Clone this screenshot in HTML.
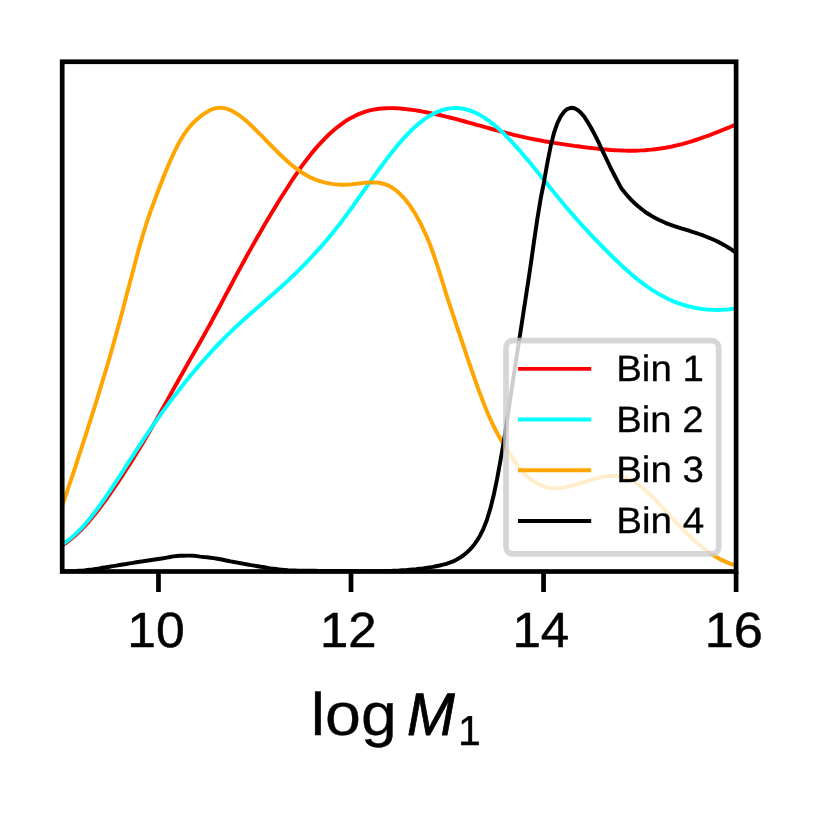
<!DOCTYPE html>
<html lang="en">
<head>
<meta charset="utf-8">
<title>log M1 distributions by bin</title>
<style>
html,body{margin:0;padding:0;background:#ffffff;}
body{width:830px;height:830px;overflow:hidden;}
svg{display:block;}
text{font-family:"Liberation Sans",sans-serif;fill:#000000;font-kerning:none;text-rendering:geometricPrecision;}
</style>
</head>
<body>
<svg width="830" height="830" viewBox="0 0 830 830" role="img" aria-label="Normalised distributions of log M1 for Bin 1 to Bin 4">
<rect x="0" y="0" width="830" height="830" fill="#ffffff"/>
<defs><clipPath id="axclip"><rect x="62.2" y="61.75" width="673.90" height="509.75"/></clipPath></defs>
<g id="curves" clip-path="url(#axclip)" fill="none" stroke-width="3.95" stroke-linejoin="round" stroke-linecap="square">
<path d="M62.2 545.3 L65.6 543.1 L68.9 540.7 L72.3 538.0 L75.7 535.0 L79.0 531.9 L82.4 528.5 L85.8 524.9 L89.2 521.1 L92.5 517.1 L95.9 512.9 L99.3 508.6 L102.6 504.1 L106.0 499.5 L109.4 494.7 L112.7 489.9 L116.1 484.9 L119.5 479.9 L122.9 474.7 L126.2 469.5 L129.6 464.3 L133.0 458.9 L136.3 453.5 L139.7 448.0 L143.1 442.4 L146.4 436.8 L149.8 431.0 L153.2 425.2 L156.5 419.4 L159.9 413.5 L163.3 407.5 L166.7 401.4 L170.0 395.4 L173.4 389.3 L176.8 383.3 L180.1 377.3 L183.5 371.3 L186.9 365.3 L190.2 359.4 L193.6 353.5 L197.0 347.6 L200.3 341.7 L203.7 335.7 L207.1 329.6 L210.5 323.5 L213.8 317.3 L217.2 311.0 L220.6 304.7 L223.9 298.4 L227.3 292.0 L230.7 285.7 L234.0 279.4 L237.4 273.1 L240.8 266.9 L244.2 260.7 L247.5 254.6 L250.9 248.6 L254.3 242.6 L257.6 236.7 L261.0 230.9 L264.4 225.1 L267.7 219.4 L271.1 213.8 L274.5 208.2 L277.8 202.7 L281.2 197.3 L284.6 192.0 L288.0 186.7 L291.3 181.5 L294.7 176.4 L298.1 171.5 L301.4 166.7 L304.8 162.1 L308.2 157.7 L311.5 153.4 L314.9 149.4 L318.3 145.5 L321.7 141.8 L325.0 138.3 L328.4 135.0 L331.8 131.9 L335.1 129.0 L338.5 126.3 L341.9 123.8 L345.2 121.4 L348.6 119.3 L352.0 117.4 L355.3 115.7 L358.7 114.1 L362.1 112.8 L365.5 111.7 L368.8 110.7 L372.2 109.9 L375.6 109.3 L378.9 108.8 L382.3 108.5 L385.7 108.2 L389.0 108.1 L392.4 108.1 L395.8 108.2 L399.1 108.4 L402.5 108.7 L405.9 109.1 L409.3 109.5 L412.6 109.9 L416.0 110.4 L419.4 111.0 L422.7 111.6 L426.1 112.2 L429.5 112.9 L432.8 113.6 L436.2 114.3 L439.6 115.0 L443.0 115.8 L446.3 116.7 L449.7 117.5 L453.1 118.4 L456.4 119.2 L459.8 120.1 L463.2 121.0 L466.5 122.0 L469.9 122.9 L473.3 123.8 L476.6 124.8 L480.0 125.7 L483.4 126.7 L486.8 127.6 L490.1 128.5 L493.5 129.5 L496.9 130.4 L500.2 131.3 L503.6 132.2 L507.0 133.1 L510.3 133.9 L513.7 134.8 L517.1 135.6 L520.5 136.4 L523.8 137.1 L527.2 137.9 L530.6 138.6 L533.9 139.3 L537.3 139.9 L540.7 140.5 L544.0 141.2 L547.4 141.7 L550.8 142.3 L554.1 142.9 L557.5 143.4 L560.9 143.9 L564.3 144.4 L567.6 144.9 L571.0 145.4 L574.4 145.9 L577.7 146.3 L581.1 146.8 L584.5 147.2 L587.8 147.6 L591.2 148.0 L594.6 148.4 L598.0 148.8 L601.3 149.1 L604.7 149.4 L608.1 149.7 L611.4 150.0 L614.8 150.2 L618.2 150.4 L621.5 150.5 L624.9 150.6 L628.3 150.7 L631.6 150.7 L635.0 150.7 L638.4 150.6 L641.8 150.4 L645.1 150.2 L648.5 149.9 L651.9 149.6 L655.2 149.2 L658.6 148.8 L662.0 148.3 L665.3 147.8 L668.7 147.1 L672.1 146.5 L675.4 145.7 L678.8 144.9 L682.2 144.1 L685.6 143.1 L688.9 142.2 L692.3 141.1 L695.7 140.0 L699.0 138.9 L702.4 137.7 L705.8 136.5 L709.1 135.3 L712.5 134.0 L715.9 132.7 L719.3 131.4 L722.6 130.0 L726.0 128.6 L729.4 127.3 L732.7 125.8 L736.1 124.4" stroke="#ff0000"/>
<path d="M62.2 544.2 L65.6 542.1 L68.9 539.7 L72.3 537.0 L75.7 533.9 L79.0 530.6 L82.4 527.1 L85.8 523.3 L89.2 519.3 L92.5 515.1 L95.9 510.7 L99.3 506.2 L102.6 501.5 L106.0 496.6 L109.4 491.7 L112.7 486.7 L116.1 481.6 L119.5 476.4 L122.9 471.2 L126.2 465.9 L129.6 460.7 L133.0 455.5 L136.3 450.3 L139.7 445.1 L143.1 440.0 L146.4 435.0 L149.8 430.0 L153.2 425.1 L156.5 420.3 L159.9 415.6 L163.3 410.9 L166.7 406.3 L170.0 401.7 L173.4 397.3 L176.8 392.9 L180.1 388.5 L183.5 384.3 L186.9 380.1 L190.2 376.0 L193.6 371.9 L197.0 367.9 L200.3 364.0 L203.7 360.2 L207.1 356.4 L210.5 352.7 L213.8 349.0 L217.2 345.5 L220.6 342.0 L223.9 338.5 L227.3 335.2 L230.7 331.9 L234.0 328.7 L237.4 325.5 L240.8 322.4 L244.2 319.3 L247.5 316.3 L250.9 313.3 L254.3 310.4 L257.6 307.4 L261.0 304.5 L264.4 301.6 L267.7 298.7 L271.1 295.7 L274.5 292.8 L277.8 289.8 L281.2 286.8 L284.6 283.7 L288.0 280.6 L291.3 277.4 L294.7 274.2 L298.1 270.9 L301.4 267.5 L304.8 264.1 L308.2 260.6 L311.5 257.0 L314.9 253.4 L318.3 249.7 L321.7 245.9 L325.0 242.0 L328.4 238.1 L331.8 234.0 L335.1 229.8 L338.5 225.6 L341.9 221.2 L345.2 216.7 L348.6 212.1 L352.0 207.5 L355.3 202.7 L358.7 198.0 L362.1 193.2 L365.5 188.5 L368.8 183.7 L372.2 178.9 L375.6 174.2 L378.9 169.5 L382.3 165.0 L385.7 160.4 L389.0 156.0 L392.4 151.7 L395.8 147.5 L399.1 143.5 L402.5 139.6 L405.9 135.9 L409.3 132.4 L412.6 129.1 L416.0 126.0 L419.4 123.1 L422.7 120.5 L426.1 118.1 L429.5 116.0 L432.8 114.1 L436.2 112.4 L439.6 111.0 L443.0 109.9 L446.3 109.0 L449.7 108.4 L453.1 108.1 L456.4 108.0 L459.8 108.2 L463.2 108.7 L466.5 109.5 L469.9 110.5 L473.3 111.8 L476.6 113.3 L480.0 115.1 L483.4 117.1 L486.8 119.3 L490.1 121.7 L493.5 124.4 L496.9 127.2 L500.2 130.2 L503.6 133.4 L507.0 136.8 L510.3 140.3 L513.7 143.9 L517.1 147.6 L520.5 151.4 L523.8 155.4 L527.2 159.4 L530.6 163.4 L533.9 167.5 L537.3 171.7 L540.7 175.9 L544.0 180.1 L547.4 184.3 L550.8 188.5 L554.1 192.6 L557.5 196.8 L560.9 200.8 L564.3 204.9 L567.6 208.8 L571.0 212.7 L574.4 216.6 L577.7 220.4 L581.1 224.2 L584.5 227.9 L587.8 231.5 L591.2 235.1 L594.6 238.6 L598.0 242.2 L601.3 245.6 L604.7 249.0 L608.1 252.4 L611.4 255.7 L614.8 259.0 L618.2 262.2 L621.5 265.4 L624.9 268.4 L628.3 271.5 L631.6 274.4 L635.0 277.2 L638.4 280.0 L641.8 282.6 L645.1 285.1 L648.5 287.5 L651.9 289.8 L655.2 291.9 L658.6 293.9 L662.0 295.8 L665.3 297.5 L668.7 299.2 L672.1 300.7 L675.4 302.1 L678.8 303.3 L682.2 304.5 L685.6 305.5 L688.9 306.4 L692.3 307.2 L695.7 307.9 L699.0 308.5 L702.4 309.0 L705.8 309.4 L709.1 309.7 L712.5 309.8 L715.9 309.9 L719.3 309.9 L722.6 309.8 L726.0 309.6 L729.4 309.3 L732.7 308.9 L736.1 308.4" stroke="#00ffff"/>
<path d="M62.2 505.8 L65.6 495.9 L68.9 486.0 L72.3 476.0 L75.7 465.8 L79.0 455.6 L82.4 445.2 L85.8 434.8 L89.2 424.2 L92.5 413.6 L95.9 402.8 L99.3 391.9 L102.6 380.9 L106.0 369.7 L109.4 358.2 L112.7 346.5 L116.1 334.4 L119.5 322.0 L122.9 309.4 L126.2 296.5 L129.6 283.7 L133.0 270.9 L136.3 258.2 L139.7 245.9 L143.1 234.3 L146.4 223.5 L149.8 213.5 L153.2 204.1 L156.5 195.1 L159.9 186.2 L163.3 177.6 L166.7 169.3 L170.0 161.4 L173.4 153.9 L176.8 147.0 L180.1 140.7 L183.5 135.2 L186.9 130.3 L190.2 126.1 L193.6 122.4 L197.0 119.2 L200.3 116.4 L203.7 114.0 L207.1 111.9 L210.5 110.0 L213.8 108.7 L217.2 107.9 L220.6 107.7 L223.9 108.1 L227.3 108.9 L230.7 110.3 L234.0 112.0 L237.4 114.1 L240.8 116.5 L244.2 119.2 L247.5 122.1 L250.9 125.2 L254.3 128.5 L257.6 131.8 L261.0 135.2 L264.4 138.6 L267.7 142.1 L271.1 145.5 L274.5 148.9 L277.8 152.3 L281.2 155.5 L284.6 158.7 L288.0 161.8 L291.3 164.7 L294.7 167.4 L298.1 169.9 L301.4 172.2 L304.8 174.3 L308.2 176.2 L311.5 177.9 L314.9 179.3 L318.3 180.6 L321.7 181.7 L325.0 182.6 L328.4 183.3 L331.8 183.9 L335.1 184.3 L338.5 184.6 L341.9 184.7 L345.2 184.7 L348.6 184.6 L352.0 184.3 L355.3 183.9 L358.7 183.5 L362.1 183.1 L365.5 182.7 L368.8 182.5 L372.2 182.4 L375.6 182.4 L378.9 182.8 L382.3 183.5 L385.7 184.5 L389.0 185.9 L392.4 187.8 L395.8 190.2 L399.1 193.1 L402.5 196.4 L405.9 200.3 L409.3 204.7 L412.6 209.6 L416.0 215.1 L419.4 221.2 L422.7 227.9 L426.1 235.3 L429.5 243.3 L432.8 252.3 L436.2 262.1 L439.6 272.6 L443.0 283.5 L446.3 294.3 L449.7 304.8 L453.1 315.0 L456.4 325.1 L459.8 335.0 L463.2 345.0 L466.5 355.1 L469.9 365.0 L473.3 374.8 L476.6 384.3 L480.0 393.6 L483.4 402.5 L486.8 410.9 L490.1 418.7 L493.5 426.0 L496.9 432.6 L500.2 438.6 L503.6 444.1 L507.0 449.4 L510.3 454.6 L513.7 459.8 L517.1 464.7 L520.5 469.1 L523.8 473.0 L527.2 476.4 L530.6 479.3 L533.9 481.7 L537.3 483.7 L540.7 485.3 L544.0 486.5 L547.4 487.3 L550.8 487.9 L554.1 488.1 L557.5 488.1 L560.9 487.8 L564.3 487.4 L567.6 486.7 L571.0 486.0 L574.4 485.1 L577.7 484.1 L581.1 483.0 L584.5 482.0 L587.8 480.9 L591.2 479.8 L594.6 478.9 L598.0 478.0 L601.3 477.2 L604.7 476.6 L608.1 476.1 L611.4 475.9 L614.8 475.9 L618.2 476.1 L621.5 476.7 L624.9 477.6 L628.3 478.8 L631.6 480.4 L635.0 482.4 L638.4 484.7 L641.8 487.3 L645.1 490.2 L648.5 493.3 L651.9 496.5 L655.2 499.9 L658.6 503.5 L662.0 507.1 L665.3 510.7 L668.7 514.3 L672.1 518.0 L675.4 521.6 L678.8 525.1 L682.2 528.6 L685.6 532.0 L688.9 535.3 L692.3 538.5 L695.7 541.6 L699.0 544.5 L702.4 547.3 L705.8 549.9 L709.1 552.4 L712.5 554.7 L715.9 556.8 L719.3 558.7 L722.6 560.4 L726.0 561.9 L729.4 563.3 L732.7 564.4 L736.1 565.4" stroke="#ffa500"/>
<path d="M62.2 571.2 L65.6 571.2 L68.9 571.1 L72.3 571.1 L75.7 571.0 L79.0 570.8 L82.4 570.6 L85.8 570.3 L89.2 569.8 L92.5 569.4 L95.9 568.9 L99.3 568.4 L102.6 567.8 L106.0 567.3 L109.4 566.7 L112.7 566.1 L116.1 565.6 L119.5 565.0 L122.9 564.5 L126.2 564.0 L129.6 563.4 L133.0 562.9 L136.3 562.3 L139.7 561.8 L143.1 561.3 L146.4 560.7 L149.8 560.2 L153.2 559.7 L156.5 559.2 L159.9 558.7 L163.3 558.2 L166.7 557.6 L170.0 557.0 L173.4 556.4 L176.8 556.0 L180.1 555.8 L183.5 555.7 L186.9 555.6 L190.2 555.6 L193.6 555.8 L197.0 556.1 L200.3 556.6 L203.7 557.0 L207.1 557.3 L210.5 557.7 L213.8 558.1 L217.2 558.7 L220.6 559.3 L223.9 560.0 L227.3 560.7 L230.7 561.4 L234.0 562.0 L237.4 562.6 L240.8 563.3 L244.2 563.9 L247.5 564.5 L250.9 565.1 L254.3 565.6 L257.6 566.2 L261.0 566.8 L264.4 567.3 L267.7 567.9 L271.1 568.4 L274.5 568.8 L277.8 569.3 L281.2 569.6 L284.6 569.9 L288.0 570.2 L291.3 570.4 L294.7 570.5 L298.1 570.6 L301.4 570.7 L304.8 570.7 L308.2 570.8 L311.5 570.8 L314.9 570.8 L318.3 570.9 L321.7 570.9 L325.0 570.9 L328.4 570.9 L331.8 570.9 L335.1 570.9 L338.5 570.9 L341.9 570.9 L345.2 570.9 L348.6 570.9 L352.0 571.0 L355.3 571.0 L358.7 571.0 L362.1 571.0 L365.5 571.1 L368.8 571.1 L372.2 571.1 L375.6 571.1 L378.9 571.1 L382.3 571.1 L385.7 571.0 L389.0 570.9 L392.4 570.8 L395.8 570.6 L399.1 570.5 L402.5 570.3 L405.9 570.1 L409.3 569.8 L412.6 569.5 L416.0 569.2 L419.4 568.8 L422.7 568.4 L426.1 567.9 L429.5 567.4 L432.8 566.9 L436.2 566.2 L439.6 565.5 L443.0 564.7 L446.3 563.8 L449.7 562.7 L453.1 561.4 L456.4 559.7 L459.8 557.8 L463.2 555.5 L466.5 552.8 L469.9 549.6 L473.3 545.8 L476.6 541.2 L480.0 535.7 L483.4 528.8 L486.8 520.3 L490.1 509.4 L493.5 496.1 L496.9 479.9 L500.2 462.0 L503.6 442.7 L507.0 421.4 L510.3 398.3 L513.7 375.8 L517.1 353.6 L520.5 331.7 L523.8 310.1 L527.2 288.1 L530.6 265.6 L533.9 242.3 L537.3 219.1 L540.7 198.5 L544.0 181.9 L547.4 162.7 L550.8 145.6 L554.1 132.5 L557.5 122.9 L560.9 116.1 L564.3 111.5 L567.6 108.8 L571.0 107.8 L574.4 108.3 L577.7 110.0 L581.1 113.0 L584.5 117.1 L587.8 122.2 L591.2 128.0 L594.6 134.4 L598.0 141.2 L601.3 148.3 L604.7 155.4 L608.1 162.5 L611.4 169.3 L614.8 176.0 L618.2 182.4 L621.5 188.6 L624.9 192.8 L628.3 196.7 L631.6 200.3 L635.0 203.5 L638.4 206.5 L641.8 209.3 L645.1 211.8 L648.5 214.0 L651.9 216.1 L655.2 218.0 L658.6 219.7 L662.0 221.3 L665.3 222.8 L668.7 224.1 L672.1 225.3 L675.4 226.5 L678.8 227.6 L682.2 228.7 L685.6 229.7 L688.9 230.7 L692.3 231.8 L695.7 232.9 L699.0 234.0 L702.4 235.2 L705.8 236.5 L709.1 237.8 L712.5 239.3 L715.9 240.8 L719.3 242.4 L722.6 244.2 L726.0 246.1 L729.4 248.2 L732.7 250.4 L736.1 252.8" stroke="#000000"/>
</g>
<g id="axes" stroke="#000000" stroke-width="4.7" fill="none">
<line x1="158.47" y1="571.5" x2="158.47" y2="592.0"/>
<line x1="351.01" y1="571.5" x2="351.01" y2="592.0"/>
<line x1="543.56" y1="571.5" x2="543.56" y2="592.0"/>
<line x1="736.10" y1="571.5" x2="736.10" y2="592.0"/>
<rect x="62.2" y="61.75" width="673.90" height="509.75" stroke-linejoin="miter"/>
</g>
<g id="legend">
<rect x="506.0" y="340.7" width="212.70" height="213.25" rx="6.9" ry="6.9" fill="#ffffff" fill-opacity="0.8" stroke="#cccccc" stroke-opacity="0.8" stroke-width="5.7"/>
<g stroke-width="3.95" fill="none">
<line x1="518.0" y1="368.85" x2="591.2" y2="368.85" stroke="#ff0000"/>
<line x1="518.0" y1="419.45" x2="591.2" y2="419.45" stroke="#00ffff"/>
<line x1="518.0" y1="470.2" x2="591.2" y2="470.2" stroke="#ffa500"/>
<line x1="518.0" y1="520.9" x2="591.2" y2="520.9" stroke="#000000"/>
</g>
</g>
<g id="labels" opacity="0.999">
<text transform="translate(616.20 381.00) scale(1.0455 1)" font-size="36.77" stroke="#000000" stroke-width="0.3" stroke-linejoin="round">Bin 1</text>
<text transform="translate(616.21 431.60) scale(1.0411 1)" font-size="36.77" stroke="#000000" stroke-width="0.3" stroke-linejoin="round">Bin 2</text>
<text transform="translate(616.19 482.35) scale(1.0469 1)" font-size="36.77" stroke="#000000" stroke-width="0.3" stroke-linejoin="round">Bin 3</text>
<text transform="translate(616.18 533.05) scale(1.0511 1)" font-size="36.77" stroke="#000000" stroke-width="0.3" stroke-linejoin="round">Bin 4</text>
<text transform="translate(127.32 646.60) scale(1.0452 1)" font-size="49.42" stroke="#000000" stroke-width="0.5" stroke-linejoin="round">10</text>
<text transform="translate(319.88 646.60) scale(1.0283 1)" font-size="49.42" stroke="#000000" stroke-width="0.5" stroke-linejoin="round">12</text>
<text transform="translate(512.40 646.60) scale(1.0360 1)" font-size="49.42" stroke="#000000" stroke-width="0.5" stroke-linejoin="round">14</text>
<text transform="translate(704.77 646.60) scale(1.0564 1)" font-size="49.42" stroke="#000000" stroke-width="0.5" stroke-linejoin="round">16</text>
<g id="xlabel" aria-label="log M1">
<text transform="translate(310.70 735.15) scale(1.0724 1)" font-size="60.17" stroke="#000000" stroke-width="0.3" stroke-linejoin="round">log</text>
<text transform="translate(406.99 734.85) scale(0.9552 1)" font-size="60.03" font-style="italic" stroke="#000000" stroke-width="0.9" stroke-linejoin="round">M</text>
<text transform="translate(458.07 744.70) scale(0.9773 1)" font-size="42.01" stroke="#000000" stroke-width="0.4" stroke-linejoin="round">1</text>
</g>
</g>
</svg>
</body>
</html>
